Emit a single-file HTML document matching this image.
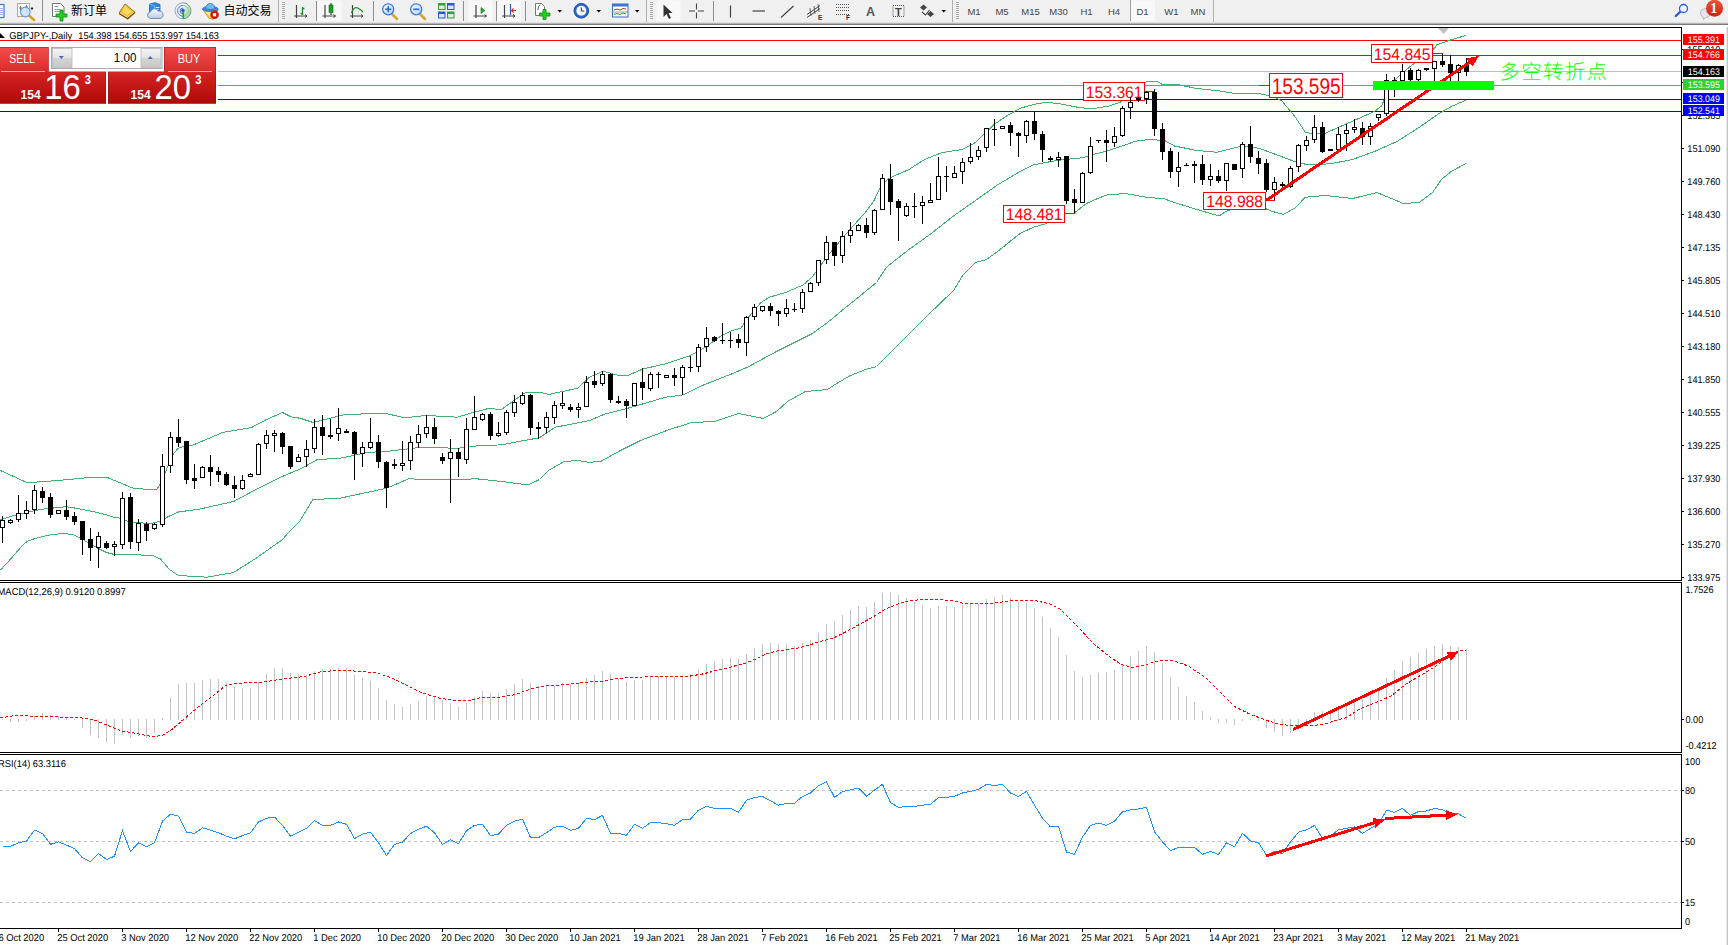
<!DOCTYPE html>
<html><head><meta charset="utf-8"><title>GBPJPY Daily</title>
<style>
html,body{margin:0;padding:0;background:#fff;}
body{width:1728px;height:945px;overflow:hidden;position:relative;font-family:"Liberation Sans","Noto Sans CJK SC",sans-serif;}
#chart{position:absolute;left:0;top:0;}
#chart text{font-family:"Liberation Sans","Noto Sans CJK SC",sans-serif;text-rendering:geometricPrecision;}
#tb{position:absolute;left:0;top:0;}
#tb text{font-family:"Liberation Sans","Noto Sans CJK SC",sans-serif;}
#trade{position:absolute;left:0;top:0;}
#trade text{font-family:"Liberation Sans","Noto Sans CJK SC",sans-serif;}

</style></head><body>
<svg id="chart" width="1728" height="945" viewBox="0 0 1728 945">
<rect x="0" y="40" width="1681" height="1" fill="#ff0000"/>
<rect x="0" y="55" width="1681" height="1" fill="#ff0000"/>
<rect x="0" y="71" width="1681" height="1" fill="#c0c0c0"/>
<rect x="0" y="85" width="1681" height="1" fill="#32cd32"/>
<rect x="0" y="99" width="1681" height="1" fill="#0000ff"/>
<rect x="0" y="111" width="1681" height="1" fill="#0000ff"/>
<polyline fill="none" stroke="#3cb371" stroke-width="1" shape-rendering="crispEdges"  points="0.5,470.5 27.2,482.7 58.3,480.5 89.4,477.5 107.2,477.5 133.5,488.3 156,490 159.5,485.5 173.5,453.5 178.3,448.3 184.5,446 193.5,444.9 222.5,432.5 251.5,427.5 266.5,419.5 282.5,412.5 291.5,417 300.5,418.3 312.9,422.5 346.3,414.3 386.3,413.5 404,417.8 426.3,415.5 457.5,417.2 472.9,412.5 488.5,408.5 501.5,409.5 515.2,399.5 526.3,392 539.5,392 548.5,394.5 577.5,388.3 589.5,377.2 603.2,371.2 618.5,375.5 627.5,375.5 643.2,368.9 665.5,363.8 689.5,356 705.5,347.2 720.9,336 732,330.5 740.9,328.3 747.5,318.3 760.9,302.5 769.5,297.2 785.5,292.5 803.2,284.9 812,277.2 818.5,268.3 827.5,256 843.2,237.2 852,227.2 864.5,213.5 873.5,201.5 882.3,183.5 891.2,177.2 908.9,169.5 924.5,159.5 942.3,152.5 962.3,149.5 975.5,142.5 982.3,136 993.5,124.9 1006.5,116 1020,108.3 1033.5,104.5 1046.5,102.3 1060,103.8 1077.5,107.2 1091.2,108.9 1108.9,106 1120,102.5 1132.5,92.5 1143.5,84.5 1146.5,81.5 1157.5,81.5 1161.5,84 1174.5,84 1196.9,88.5 1219.2,90.9 1234.5,93.5 1259.2,93.5 1272.5,96.5 1281.5,100.5 1294.5,116 1305.5,132.5 1312.5,133.5 1325.5,133.2 1341.5,126 1359.2,118.3 1374.5,111.5 1381.5,106 1388,90.5 1396.5,78.5 1408,68.3 1419.2,59.5 1434.5,48.3 1436.5,44.9 1451.9,39.5 1466.2,35.4"/>
<polyline fill="none" stroke="#3cb371" stroke-width="1" shape-rendering="crispEdges"  points="0.5,519.7 14.3,515.4 27,512.2 42.8,509.1 55.5,507.8 66.1,506.7 74.5,508 93.5,511.7 106.3,514.9 114.8,517.5 120.1,518.1 127.5,521.2 133.8,522.3 148.5,523.4 155,522.8 160.5,520.7 169.5,516 178.5,512 200.5,508.9 233.5,501.5 256,489.5 278.5,478.3 288.5,473.8 300.5,468.9 317.5,459.5 339.5,458.3 368.5,452.3 386.3,451.5 421.5,447.2 457.5,448.3 479.5,445.5 501.5,444.9 524,440.5 539.5,437.8 555.2,427.2 576.5,423.2 589.5,420.5 605.5,413.8 627.5,408.3 643.2,403.8 665.5,397.2 683.2,394.9 700.9,386 732,373.8 747.5,367.2 776.5,351.5 798.5,340.5 812,333.8 827.5,322.5 843.2,309.5 858.5,297.2 876.5,282.5 886.5,267.2 908.9,249.5 931.2,233.5 953.5,216 975.5,200.5 997.5,184.9 1020,171.5 1033.5,164.9 1051.2,161.5 1064.5,159.5 1082.3,157.8 1095.5,153.8 1108.9,150.5 1122.3,146 1135.5,141.2 1148.9,139.5 1164.5,140.5 1174.5,146 1196.9,150.5 1216.9,152.3 1241.5,146 1259.2,148.3 1276.9,154.9 1294.5,161.5 1308,164.9 1330.3,163.8 1352.5,159.5 1374.5,151.5 1396.9,141.5 1419.5,127.2 1438.5,113.8 1451.9,106.2 1466.2,100.1"/>
<polyline fill="none" stroke="#3cb371" stroke-width="1" shape-rendering="crispEdges"  points="0.5,570 7.5,562.5 14.5,554.5 22.5,545.5 27,541.5 33.5,539 42.5,536.5 50.5,535 58.5,533.9 66.5,533.8 72.5,534.5 80.5,538 88.5,543 97.5,548 106.5,552.5 114.5,554.5 127.5,554.3 140.5,555 153.5,555.8 160.5,559 169.5,569.5 178.5,575.5 207.2,577.2 233.5,572.5 256,558.3 282.5,539.5 288.5,532.5 299.5,521.5 312.9,499.5 339.5,498.3 386.3,488.3 408.5,478.9 439.5,479.5 477.5,478.9 501.5,481.5 528.5,484.9 539.5,479.5 548.5,470.5 564,461.5 577.5,460.5 588.5,462.3 600.5,461.5 620.5,450.5 640.5,440.5 669.5,429.5 692,422.5 714.3,421.5 738.5,413.5 763.2,418.5 776.5,411.5 787.5,401.5 805.5,391.5 827.5,389.5 834.3,384.9 849.5,376 865.5,369.5 876.5,366.5 900.5,342.5 925.5,317.5 953.5,290.5 962.3,276 975.5,262.5 986.5,259.5 997.5,251.5 1020,233.5 1033.5,227.2 1046.5,223.5 1064.5,213.5 1073.5,213.5 1086.5,203.5 1097.5,198.5 1108.9,194.3 1126.5,193.8 1146.5,197.2 1164.5,198.9 1174.5,202.5 1196.9,209.5 1219.2,216 1225.5,211.5 1241.5,206 1259.2,206 1272.5,211.5 1283.5,214.3 1294.5,208.3 1305.5,197.2 1325.5,195.5 1352.5,198.5 1376.9,192.5 1403.5,203.5 1419.2,202.5 1432.5,192.5 1441.5,179.5 1451.9,171 1466.2,163.4"/>
<polyline fill="none" stroke="#ff0000" stroke-width="1" shape-rendering="crispEdges" points="1144,91.5 1154.5,91.5 1154.5,89"/>
<rect x="1083.5" y="82.5" width="61" height="18" fill="#fff" stroke="#ff0000" stroke-width="1"/>
<text x="1085.8" y="97.8" font-size="16.6" fill="#ff0000" textLength="56.8" lengthAdjust="spacingAndGlyphs">153.361</text>
<polyline fill="none" stroke="#ff0000" stroke-width="1" shape-rendering="crispEdges" points="1064,213.5 1074.5,213.5 1074.5,212"/>
<rect x="1003.5" y="205.5" width="61" height="17" fill="#fff" stroke="#ff0000" stroke-width="1"/>
<text x="1005.8" y="220.3" font-size="16.6" fill="#ff0000" textLength="56.8" lengthAdjust="spacingAndGlyphs">148.481</text>
<polyline fill="none" stroke="#ff0000" stroke-width="1" shape-rendering="crispEdges" points="1265,200.5 1274.5,200.5 1274.5,199"/>
<rect x="1203.5" y="192.5" width="62" height="17" fill="#fff" stroke="#ff0000" stroke-width="1"/>
<text x="1206.3" y="207.3" font-size="16.6" fill="#ff0000" textLength="56.8" lengthAdjust="spacingAndGlyphs">148.988</text>
<polyline fill="none" stroke="#ff0000" stroke-width="1" shape-rendering="crispEdges" points="1432,53.5 1442.5,53.5 1442.5,54"/>
<rect x="1371.5" y="44.5" width="61" height="18" fill="#fff" stroke="#ff0000" stroke-width="1"/>
<text x="1373.8" y="59.8" font-size="16.6" fill="#ff0000" textLength="56.8" lengthAdjust="spacingAndGlyphs">154.845</text>
<polyline fill="none" stroke="#ff0000" stroke-width="1" shape-rendering="crispEdges" points="1259,85.5 1269,85.5"/>
<rect x="1269.5" y="73.5" width="73" height="24" fill="#fff" stroke="#ff0000" stroke-width="1"/>
<text x="1271.7" y="93.8" font-size="22.6" fill="#ff0000" textLength="69" lengthAdjust="spacingAndGlyphs">153.595</text>
<g fill="#000" shape-rendering="crispEdges"><rect x="2" y="516" width="1" height="27"/><rect x="0" y="520" width="5" height="8"/><rect x="1" y="521" width="3" height="6" fill="#fff"/><rect x="10" y="519" width="1" height="5"/><rect x="8" y="520" width="5" height="3"/><rect x="9" y="521" width="3" height="1" fill="#fff"/><rect x="18" y="495" width="1" height="27"/><rect x="16" y="513" width="5" height="7"/><rect x="17" y="514" width="3" height="5" fill="#fff"/><rect x="26" y="501" width="1" height="18"/><rect x="24" y="510" width="5" height="4"/><rect x="25" y="511" width="3" height="2" fill="#fff"/><rect x="34" y="485" width="1" height="29"/><rect x="32" y="490" width="5" height="20"/><rect x="33" y="491" width="3" height="18" fill="#fff"/><rect x="42" y="487" width="1" height="16"/><rect x="40" y="491" width="5" height="7"/><rect x="50" y="493" width="1" height="25"/><rect x="48" y="497" width="5" height="18"/><rect x="58" y="510" width="1" height="4"/><rect x="56" y="510" width="5" height="4"/><rect x="57" y="511" width="3" height="2" fill="#fff"/><rect x="66" y="500" width="1" height="20"/><rect x="64" y="510" width="5" height="7"/><rect x="74" y="512" width="1" height="13"/><rect x="72" y="516" width="5" height="6"/><rect x="82" y="521" width="1" height="34"/><rect x="80" y="521" width="5" height="19"/><rect x="90" y="528" width="1" height="33"/><rect x="88" y="539" width="5" height="9"/><rect x="98" y="532" width="1" height="36"/><rect x="96" y="536" width="5" height="12"/><rect x="97" y="537" width="3" height="10" fill="#fff"/><rect x="106" y="541" width="1" height="8"/><rect x="104" y="543" width="5" height="5"/><rect x="114" y="541" width="1" height="15"/><rect x="112" y="544" width="5" height="3"/><rect x="113" y="545" width="3" height="1" fill="#fff"/><rect x="122" y="492" width="1" height="57"/><rect x="120" y="498" width="5" height="47"/><rect x="121" y="499" width="3" height="45" fill="#fff"/><rect x="130" y="493" width="1" height="56"/><rect x="128" y="497" width="5" height="45"/><rect x="138" y="519" width="1" height="32"/><rect x="136" y="523" width="5" height="20"/><rect x="137" y="524" width="3" height="18" fill="#fff"/><rect x="146" y="522" width="1" height="19"/><rect x="144" y="524" width="5" height="7"/><rect x="154" y="523" width="1" height="7"/><rect x="152" y="524" width="5" height="5"/><rect x="153" y="525" width="3" height="3" fill="#fff"/><rect x="162" y="454" width="1" height="73"/><rect x="160" y="466" width="5" height="59"/><rect x="161" y="467" width="3" height="57" fill="#fff"/><rect x="170" y="432" width="1" height="41"/><rect x="168" y="437" width="5" height="29"/><rect x="169" y="438" width="3" height="27" fill="#fff"/><rect x="178" y="419" width="1" height="28"/><rect x="176" y="437" width="5" height="6"/><rect x="186" y="441" width="1" height="43"/><rect x="184" y="441" width="5" height="39"/><rect x="194" y="464" width="1" height="25"/><rect x="192" y="478" width="5" height="3"/><rect x="202" y="466" width="1" height="12"/><rect x="200" y="467" width="5" height="11"/><rect x="201" y="468" width="3" height="9" fill="#fff"/><rect x="210" y="455" width="1" height="31"/><rect x="208" y="467" width="5" height="5"/><rect x="218" y="467" width="1" height="15"/><rect x="216" y="471" width="5" height="4"/><rect x="226" y="472" width="1" height="14"/><rect x="224" y="474" width="5" height="11"/><rect x="234" y="476" width="1" height="22"/><rect x="232" y="485" width="5" height="4"/><rect x="242" y="475" width="1" height="15"/><rect x="240" y="480" width="5" height="9"/><rect x="241" y="481" width="3" height="7" fill="#fff"/><rect x="250" y="473" width="1" height="4"/><rect x="248" y="474" width="5" height="3"/><rect x="249" y="475" width="3" height="1" fill="#fff"/><rect x="258" y="443" width="1" height="32"/><rect x="256" y="444" width="5" height="31"/><rect x="257" y="445" width="3" height="29" fill="#fff"/><rect x="266" y="430" width="1" height="19"/><rect x="264" y="435" width="5" height="9"/><rect x="265" y="436" width="3" height="7" fill="#fff"/><rect x="274" y="430" width="1" height="22"/><rect x="272" y="433" width="5" height="3"/><rect x="273" y="434" width="3" height="1" fill="#fff"/><rect x="282" y="432" width="1" height="22"/><rect x="280" y="433" width="5" height="14"/><rect x="290" y="446" width="1" height="23"/><rect x="288" y="446" width="5" height="21"/><rect x="298" y="454" width="1" height="8"/><rect x="296" y="457" width="5" height="5"/><rect x="297" y="458" width="3" height="3" fill="#fff"/><rect x="306" y="440" width="1" height="27"/><rect x="304" y="449" width="5" height="8"/><rect x="305" y="450" width="3" height="6" fill="#fff"/><rect x="314" y="419" width="1" height="34"/><rect x="312" y="427" width="5" height="22"/><rect x="313" y="428" width="3" height="20" fill="#fff"/><rect x="322" y="415" width="1" height="40"/><rect x="320" y="427" width="5" height="9"/><rect x="330" y="419" width="1" height="20"/><rect x="328" y="435" width="5" height="2"/><rect x="338" y="408" width="1" height="33"/><rect x="336" y="428" width="5" height="6"/><rect x="337" y="429" width="3" height="4" fill="#fff"/><rect x="346" y="429" width="1" height="4"/><rect x="344" y="431" width="5" height="2"/><rect x="354" y="431" width="1" height="49"/><rect x="352" y="432" width="5" height="22"/><rect x="362" y="442" width="1" height="25"/><rect x="360" y="447" width="5" height="7"/><rect x="361" y="448" width="3" height="5" fill="#fff"/><rect x="370" y="418" width="1" height="31"/><rect x="368" y="442" width="5" height="6"/><rect x="369" y="443" width="3" height="4" fill="#fff"/><rect x="378" y="435" width="1" height="33"/><rect x="376" y="442" width="5" height="20"/><rect x="386" y="461" width="1" height="47"/><rect x="384" y="462" width="5" height="26"/><rect x="394" y="459" width="1" height="10"/><rect x="392" y="464" width="5" height="2"/><rect x="402" y="441" width="1" height="30"/><rect x="400" y="463" width="5" height="3"/><rect x="401" y="464" width="3" height="1" fill="#fff"/><rect x="410" y="436" width="1" height="34"/><rect x="408" y="442" width="5" height="19"/><rect x="409" y="443" width="3" height="17" fill="#fff"/><rect x="418" y="425" width="1" height="23"/><rect x="416" y="434" width="5" height="9"/><rect x="417" y="435" width="3" height="7" fill="#fff"/><rect x="426" y="415" width="1" height="23"/><rect x="424" y="427" width="5" height="7"/><rect x="425" y="428" width="3" height="5" fill="#fff"/><rect x="434" y="418" width="1" height="26"/><rect x="432" y="427" width="5" height="12"/><rect x="442" y="453" width="1" height="11"/><rect x="440" y="457" width="5" height="4"/><rect x="450" y="439" width="1" height="64"/><rect x="448" y="452" width="5" height="7"/><rect x="449" y="453" width="3" height="5" fill="#fff"/><rect x="458" y="448" width="1" height="29"/><rect x="456" y="452" width="5" height="7"/><rect x="466" y="418" width="1" height="46"/><rect x="464" y="429" width="5" height="31"/><rect x="465" y="430" width="3" height="29" fill="#fff"/><rect x="474" y="396" width="1" height="34"/><rect x="472" y="417" width="5" height="13"/><rect x="473" y="418" width="3" height="11" fill="#fff"/><rect x="482" y="413" width="1" height="8"/><rect x="480" y="414" width="5" height="6"/><rect x="481" y="415" width="3" height="4" fill="#fff"/><rect x="490" y="412" width="1" height="28"/><rect x="488" y="414" width="5" height="22"/><rect x="498" y="422" width="1" height="15"/><rect x="496" y="433" width="5" height="3"/><rect x="497" y="434" width="3" height="1" fill="#fff"/><rect x="506" y="410" width="1" height="25"/><rect x="504" y="412" width="5" height="21"/><rect x="505" y="413" width="3" height="19" fill="#fff"/><rect x="514" y="395" width="1" height="22"/><rect x="512" y="402" width="5" height="11"/><rect x="513" y="403" width="3" height="9" fill="#fff"/><rect x="522" y="392" width="1" height="13"/><rect x="520" y="395" width="5" height="9"/><rect x="521" y="396" width="3" height="7" fill="#fff"/><rect x="530" y="394" width="1" height="41"/><rect x="528" y="395" width="5" height="33"/><rect x="538" y="422" width="1" height="17"/><rect x="536" y="427" width="5" height="2"/><rect x="546" y="412" width="1" height="21"/><rect x="544" y="417" width="5" height="11"/><rect x="545" y="418" width="3" height="9" fill="#fff"/><rect x="554" y="401" width="1" height="23"/><rect x="552" y="405" width="5" height="13"/><rect x="553" y="406" width="3" height="11" fill="#fff"/><rect x="562" y="392" width="1" height="17"/><rect x="560" y="403" width="5" height="3"/><rect x="561" y="404" width="3" height="1" fill="#fff"/><rect x="570" y="404" width="1" height="8"/><rect x="568" y="407" width="5" height="3"/><rect x="578" y="403" width="1" height="15"/><rect x="576" y="407" width="5" height="3"/><rect x="577" y="408" width="3" height="1" fill="#fff"/><rect x="586" y="376" width="1" height="31"/><rect x="584" y="382" width="5" height="25"/><rect x="585" y="383" width="3" height="23" fill="#fff"/><rect x="594" y="371" width="1" height="17"/><rect x="592" y="381" width="5" height="4"/><rect x="602" y="371" width="1" height="15"/><rect x="600" y="374" width="5" height="10"/><rect x="601" y="375" width="3" height="8" fill="#fff"/><rect x="610" y="373" width="1" height="30"/><rect x="608" y="374" width="5" height="26"/><rect x="618" y="396" width="1" height="8"/><rect x="616" y="401" width="5" height="2"/><rect x="626" y="399" width="1" height="19"/><rect x="624" y="401" width="5" height="5"/><rect x="634" y="383" width="1" height="23"/><rect x="632" y="383" width="5" height="23"/><rect x="633" y="384" width="3" height="21" fill="#fff"/><rect x="642" y="368" width="1" height="32"/><rect x="640" y="382" width="5" height="6"/><rect x="650" y="372" width="1" height="19"/><rect x="648" y="374" width="5" height="15"/><rect x="649" y="375" width="3" height="13" fill="#fff"/><rect x="658" y="372" width="1" height="16"/><rect x="656" y="374" width="5" height="1"/><rect x="666" y="375" width="1" height="3"/><rect x="664" y="375" width="5" height="3"/><rect x="665" y="376" width="3" height="1" fill="#fff"/><rect x="674" y="368" width="1" height="18"/><rect x="672" y="375" width="5" height="3"/><rect x="682" y="365" width="1" height="30"/><rect x="680" y="367" width="5" height="11"/><rect x="681" y="368" width="3" height="9" fill="#fff"/><rect x="690" y="356" width="1" height="16"/><rect x="688" y="367" width="5" height="1"/><rect x="698" y="344" width="1" height="28"/><rect x="696" y="347" width="5" height="20"/><rect x="697" y="348" width="3" height="18" fill="#fff"/><rect x="706" y="327" width="1" height="25"/><rect x="704" y="338" width="5" height="9"/><rect x="705" y="339" width="3" height="7" fill="#fff"/><rect x="714" y="336" width="1" height="6"/><rect x="712" y="337" width="5" height="4"/><rect x="722" y="323" width="1" height="21"/><rect x="720" y="340" width="5" height="1"/><rect x="730" y="332" width="1" height="16"/><rect x="728" y="340" width="5" height="1"/><rect x="738" y="334" width="1" height="14"/><rect x="736" y="339" width="5" height="4"/><rect x="746" y="316" width="1" height="40"/><rect x="744" y="317" width="5" height="26"/><rect x="745" y="318" width="3" height="24" fill="#fff"/><rect x="754" y="304" width="1" height="16"/><rect x="752" y="307" width="5" height="10"/><rect x="753" y="308" width="3" height="8" fill="#fff"/><rect x="762" y="306" width="1" height="6"/><rect x="760" y="306" width="5" height="5"/><rect x="761" y="307" width="3" height="3" fill="#fff"/><rect x="770" y="303" width="1" height="13"/><rect x="768" y="306" width="5" height="5"/><rect x="778" y="310" width="1" height="16"/><rect x="776" y="311" width="5" height="3"/><rect x="786" y="299" width="1" height="18"/><rect x="784" y="308" width="5" height="6"/><rect x="785" y="309" width="3" height="4" fill="#fff"/><rect x="794" y="303" width="1" height="9"/><rect x="792" y="309" width="5" height="1"/><rect x="802" y="289" width="1" height="24"/><rect x="800" y="292" width="5" height="17"/><rect x="801" y="293" width="3" height="15" fill="#fff"/><rect x="810" y="282" width="1" height="10"/><rect x="808" y="283" width="5" height="9"/><rect x="809" y="284" width="3" height="7" fill="#fff"/><rect x="818" y="260" width="1" height="26"/><rect x="816" y="260" width="5" height="23"/><rect x="817" y="261" width="3" height="21" fill="#fff"/><rect x="826" y="236" width="1" height="28"/><rect x="824" y="242" width="5" height="18"/><rect x="825" y="243" width="3" height="16" fill="#fff"/><rect x="834" y="242" width="1" height="24"/><rect x="832" y="242" width="5" height="14"/><rect x="842" y="231" width="1" height="32"/><rect x="840" y="236" width="5" height="20"/><rect x="841" y="237" width="3" height="18" fill="#fff"/><rect x="850" y="222" width="1" height="21"/><rect x="848" y="230" width="5" height="6"/><rect x="849" y="231" width="3" height="4" fill="#fff"/><rect x="858" y="224" width="1" height="7"/><rect x="856" y="225" width="5" height="6"/><rect x="857" y="226" width="3" height="4" fill="#fff"/><rect x="866" y="218" width="1" height="20"/><rect x="864" y="225" width="5" height="8"/><rect x="874" y="209" width="1" height="26"/><rect x="872" y="210" width="5" height="23"/><rect x="873" y="211" width="3" height="21" fill="#fff"/><rect x="882" y="174" width="1" height="36"/><rect x="880" y="178" width="5" height="32"/><rect x="881" y="179" width="3" height="30" fill="#fff"/><rect x="890" y="164" width="1" height="51"/><rect x="888" y="179" width="5" height="23"/><rect x="898" y="199" width="1" height="42"/><rect x="896" y="201" width="5" height="7"/><rect x="906" y="203" width="1" height="14"/><rect x="904" y="206" width="5" height="10"/><rect x="905" y="207" width="3" height="8" fill="#fff"/><rect x="914" y="193" width="1" height="25"/><rect x="912" y="206" width="5" height="1"/><rect x="922" y="196" width="1" height="28"/><rect x="920" y="202" width="5" height="4"/><rect x="921" y="203" width="3" height="2" fill="#fff"/><rect x="930" y="183" width="1" height="20"/><rect x="928" y="200" width="5" height="3"/><rect x="929" y="201" width="3" height="1" fill="#fff"/><rect x="938" y="157" width="1" height="43"/><rect x="936" y="176" width="5" height="24"/><rect x="937" y="177" width="3" height="22" fill="#fff"/><rect x="946" y="166" width="1" height="26"/><rect x="944" y="176" width="5" height="1"/><rect x="954" y="166" width="1" height="12"/><rect x="952" y="173" width="5" height="5"/><rect x="953" y="174" width="3" height="3" fill="#fff"/><rect x="962" y="158" width="1" height="26"/><rect x="960" y="162" width="5" height="10"/><rect x="961" y="163" width="3" height="8" fill="#fff"/><rect x="970" y="143" width="1" height="21"/><rect x="968" y="157" width="5" height="5"/><rect x="969" y="158" width="3" height="3" fill="#fff"/><rect x="978" y="146" width="1" height="14"/><rect x="976" y="150" width="5" height="7"/><rect x="977" y="151" width="3" height="5" fill="#fff"/><rect x="986" y="128" width="1" height="24"/><rect x="984" y="128" width="5" height="20"/><rect x="985" y="129" width="3" height="18" fill="#fff"/><rect x="994" y="119" width="1" height="27"/><rect x="992" y="129" width="5" height="1"/><rect x="1002" y="126" width="1" height="3"/><rect x="1000" y="126" width="5" height="3"/><rect x="1001" y="127" width="3" height="1" fill="#fff"/><rect x="1010" y="122" width="1" height="24"/><rect x="1008" y="125" width="5" height="8"/><rect x="1018" y="132" width="1" height="25"/><rect x="1016" y="133" width="5" height="3"/><rect x="1026" y="120" width="1" height="23"/><rect x="1024" y="121" width="5" height="15"/><rect x="1025" y="122" width="3" height="13" fill="#fff"/><rect x="1034" y="112" width="1" height="28"/><rect x="1032" y="121" width="5" height="13"/><rect x="1042" y="131" width="1" height="31"/><rect x="1040" y="134" width="5" height="16"/><rect x="1050" y="156" width="1" height="6"/><rect x="1048" y="158" width="5" height="2"/><rect x="1058" y="152" width="1" height="15"/><rect x="1056" y="157" width="5" height="3"/><rect x="1057" y="158" width="3" height="1" fill="#fff"/><rect x="1066" y="156" width="1" height="48"/><rect x="1064" y="156" width="5" height="45"/><rect x="1074" y="189" width="1" height="24"/><rect x="1072" y="199" width="5" height="4"/><rect x="1082" y="172" width="1" height="31"/><rect x="1080" y="173" width="5" height="30"/><rect x="1081" y="174" width="3" height="28" fill="#fff"/><rect x="1090" y="137" width="1" height="37"/><rect x="1088" y="146" width="5" height="27"/><rect x="1089" y="147" width="3" height="25" fill="#fff"/><rect x="1098" y="140" width="1" height="3"/><rect x="1096" y="140" width="5" height="1"/><rect x="1106" y="130" width="1" height="32"/><rect x="1104" y="140" width="5" height="3"/><rect x="1114" y="127" width="1" height="20"/><rect x="1112" y="136" width="5" height="7"/><rect x="1113" y="137" width="3" height="5" fill="#fff"/><rect x="1122" y="106" width="1" height="31"/><rect x="1120" y="108" width="5" height="28"/><rect x="1121" y="109" width="3" height="26" fill="#fff"/><rect x="1130" y="97" width="1" height="22"/><rect x="1128" y="102" width="5" height="6"/><rect x="1129" y="103" width="3" height="4" fill="#fff"/><rect x="1138" y="97" width="1" height="5"/><rect x="1136" y="98" width="5" height="2"/><rect x="1146" y="91" width="1" height="13"/><rect x="1144" y="92" width="5" height="7"/><rect x="1145" y="93" width="3" height="5" fill="#fff"/><rect x="1154" y="90" width="1" height="46"/><rect x="1152" y="92" width="5" height="37"/><rect x="1162" y="123" width="1" height="37"/><rect x="1160" y="129" width="5" height="23"/><rect x="1170" y="148" width="1" height="30"/><rect x="1168" y="151" width="5" height="21"/><rect x="1178" y="152" width="1" height="35"/><rect x="1176" y="167" width="5" height="5"/><rect x="1177" y="168" width="3" height="3" fill="#fff"/><rect x="1186" y="163" width="1" height="3"/><rect x="1184" y="165" width="5" height="1"/><rect x="1194" y="161" width="1" height="22"/><rect x="1192" y="164" width="5" height="2"/><rect x="1202" y="155" width="1" height="30"/><rect x="1200" y="164" width="5" height="16"/><rect x="1210" y="164" width="1" height="22"/><rect x="1208" y="176" width="5" height="4"/><rect x="1209" y="177" width="3" height="2" fill="#fff"/><rect x="1218" y="170" width="1" height="13"/><rect x="1216" y="176" width="5" height="5"/><rect x="1226" y="163" width="1" height="28"/><rect x="1224" y="163" width="5" height="18"/><rect x="1225" y="164" width="3" height="16" fill="#fff"/><rect x="1234" y="164" width="1" height="6"/><rect x="1232" y="164" width="5" height="6"/><rect x="1242" y="142" width="1" height="36"/><rect x="1240" y="144" width="5" height="25"/><rect x="1241" y="145" width="3" height="23" fill="#fff"/><rect x="1250" y="126" width="1" height="37"/><rect x="1248" y="144" width="5" height="13"/><rect x="1258" y="151" width="1" height="23"/><rect x="1256" y="158" width="5" height="6"/><rect x="1266" y="159" width="1" height="33"/><rect x="1264" y="163" width="5" height="27"/><rect x="1274" y="177" width="1" height="23"/><rect x="1272" y="182" width="5" height="8"/><rect x="1273" y="183" width="3" height="6" fill="#fff"/><rect x="1282" y="182" width="1" height="6"/><rect x="1280" y="184" width="5" height="2"/><rect x="1290" y="166" width="1" height="22"/><rect x="1288" y="168" width="5" height="19"/><rect x="1289" y="169" width="3" height="17" fill="#fff"/><rect x="1298" y="144" width="1" height="28"/><rect x="1296" y="145" width="5" height="22"/><rect x="1297" y="146" width="3" height="20" fill="#fff"/><rect x="1306" y="136" width="1" height="15"/><rect x="1304" y="140" width="5" height="6"/><rect x="1305" y="141" width="3" height="4" fill="#fff"/><rect x="1314" y="115" width="1" height="28"/><rect x="1312" y="127" width="5" height="13"/><rect x="1313" y="128" width="3" height="11" fill="#fff"/><rect x="1322" y="122" width="1" height="31"/><rect x="1320" y="127" width="5" height="25"/><rect x="1330" y="149" width="1" height="2"/><rect x="1328" y="149" width="5" height="2"/><rect x="1338" y="127" width="1" height="23"/><rect x="1336" y="134" width="5" height="16"/><rect x="1337" y="135" width="3" height="14" fill="#fff"/><rect x="1346" y="124" width="1" height="27"/><rect x="1344" y="130" width="5" height="4"/><rect x="1345" y="131" width="3" height="2" fill="#fff"/><rect x="1354" y="119" width="1" height="14"/><rect x="1352" y="127" width="5" height="3"/><rect x="1353" y="128" width="3" height="1" fill="#fff"/><rect x="1362" y="122" width="1" height="23"/><rect x="1360" y="128" width="5" height="9"/><rect x="1370" y="123" width="1" height="22"/><rect x="1368" y="126" width="5" height="11"/><rect x="1369" y="127" width="3" height="9" fill="#fff"/><rect x="1378" y="114" width="1" height="7"/><rect x="1376" y="114" width="5" height="4"/><rect x="1377" y="115" width="3" height="2" fill="#fff"/><rect x="1386" y="74" width="1" height="42"/><rect x="1384" y="80" width="5" height="34"/><rect x="1385" y="81" width="3" height="32" fill="#fff"/><rect x="1394" y="77" width="1" height="20"/><rect x="1392" y="80" width="5" height="1"/><rect x="1402" y="64" width="1" height="17"/><rect x="1400" y="71" width="5" height="10"/><rect x="1401" y="72" width="3" height="8" fill="#fff"/><rect x="1410" y="68" width="1" height="13"/><rect x="1408" y="70" width="5" height="10"/><rect x="1418" y="69" width="1" height="12"/><rect x="1416" y="70" width="5" height="10"/><rect x="1417" y="71" width="3" height="8" fill="#fff"/><rect x="1426" y="68" width="1" height="3"/><rect x="1424" y="68" width="5" height="2"/><rect x="1434" y="61" width="1" height="20"/><rect x="1432" y="61" width="5" height="8"/><rect x="1433" y="62" width="3" height="6" fill="#fff"/><rect x="1442" y="54" width="1" height="13"/><rect x="1440" y="61" width="5" height="4"/><rect x="1450" y="55" width="1" height="26"/><rect x="1448" y="64" width="5" height="9"/><rect x="1458" y="64" width="1" height="17"/><rect x="1456" y="65" width="5" height="8"/><rect x="1457" y="66" width="3" height="6" fill="#fff"/><rect x="1466" y="58" width="1" height="18"/><rect x="1464" y="65" width="5" height="7"/></g>
<g fill="#c0c0c0" shape-rendering="crispEdges"><rect x="2" y="719" width="1" height="1"/><rect x="10" y="719" width="1" height="3"/><rect x="18" y="719" width="1" height="3"/><rect x="26" y="719" width="1" height="2"/><rect x="34" y="716" width="1" height="4"/><rect x="42" y="713" width="1" height="7"/><rect x="50" y="715" width="1" height="5"/><rect x="58" y="716" width="1" height="4"/><rect x="66" y="717" width="1" height="3"/><rect x="74" y="719" width="1" height="1"/><rect x="82" y="719" width="1" height="9"/><rect x="90" y="719" width="1" height="16"/><rect x="98" y="719" width="1" height="19"/><rect x="106" y="719" width="1" height="23"/><rect x="114" y="719" width="1" height="25"/><rect x="122" y="719" width="1" height="16"/><rect x="130" y="719" width="1" height="19"/><rect x="138" y="719" width="1" height="17"/><rect x="146" y="719" width="1" height="19"/><rect x="154" y="719" width="1" height="14"/><rect x="162" y="718" width="1" height="2"/><rect x="170" y="698" width="1" height="22"/><rect x="178" y="684" width="1" height="36"/><rect x="186" y="683" width="1" height="37"/><rect x="194" y="683" width="1" height="37"/><rect x="202" y="680" width="1" height="40"/><rect x="210" y="679" width="1" height="41"/><rect x="218" y="679" width="1" height="41"/><rect x="226" y="683" width="1" height="37"/><rect x="234" y="687" width="1" height="33"/><rect x="242" y="688" width="1" height="32"/><rect x="250" y="688" width="1" height="32"/><rect x="258" y="682" width="1" height="38"/><rect x="266" y="674" width="1" height="46"/><rect x="274" y="668" width="1" height="52"/><rect x="282" y="668" width="1" height="52"/><rect x="290" y="673" width="1" height="47"/><rect x="298" y="674" width="1" height="46"/><rect x="306" y="675" width="1" height="45"/><rect x="314" y="671" width="1" height="49"/><rect x="322" y="669" width="1" height="51"/><rect x="330" y="669" width="1" height="51"/><rect x="338" y="668" width="1" height="52"/><rect x="346" y="668" width="1" height="52"/><rect x="354" y="675" width="1" height="45"/><rect x="362" y="678" width="1" height="42"/><rect x="370" y="681" width="1" height="39"/><rect x="378" y="688" width="1" height="32"/><rect x="386" y="700" width="1" height="20"/><rect x="394" y="704" width="1" height="16"/><rect x="402" y="707" width="1" height="13"/><rect x="410" y="704" width="1" height="16"/><rect x="418" y="701" width="1" height="19"/><rect x="426" y="696" width="1" height="24"/><rect x="434" y="696" width="1" height="24"/><rect x="442" y="700" width="1" height="20"/><rect x="450" y="703" width="1" height="17"/><rect x="458" y="707" width="1" height="13"/><rect x="466" y="703" width="1" height="17"/><rect x="474" y="697" width="1" height="23"/><rect x="482" y="691" width="1" height="29"/><rect x="490" y="693" width="1" height="27"/><rect x="498" y="693" width="1" height="27"/><rect x="506" y="689" width="1" height="31"/><rect x="514" y="684" width="1" height="36"/><rect x="522" y="679" width="1" height="41"/><rect x="530" y="683" width="1" height="37"/><rect x="538" y="686" width="1" height="34"/><rect x="546" y="686" width="1" height="34"/><rect x="554" y="686" width="1" height="34"/><rect x="562" y="683" width="1" height="37"/><rect x="570" y="684" width="1" height="36"/><rect x="578" y="683" width="1" height="37"/><rect x="586" y="678" width="1" height="42"/><rect x="594" y="675" width="1" height="45"/><rect x="602" y="671" width="1" height="49"/><rect x="610" y="674" width="1" height="46"/><rect x="618" y="679" width="1" height="41"/><rect x="626" y="682" width="1" height="38"/><rect x="634" y="680" width="1" height="40"/><rect x="642" y="680" width="1" height="40"/><rect x="650" y="677" width="1" height="43"/><rect x="658" y="676" width="1" height="44"/><rect x="666" y="676" width="1" height="44"/><rect x="674" y="677" width="1" height="43"/><rect x="682" y="675" width="1" height="45"/><rect x="690" y="674" width="1" height="46"/><rect x="698" y="669" width="1" height="51"/><rect x="706" y="664" width="1" height="56"/><rect x="714" y="661" width="1" height="59"/><rect x="722" y="659" width="1" height="61"/><rect x="730" y="658" width="1" height="62"/><rect x="738" y="659" width="1" height="61"/><rect x="746" y="654" width="1" height="66"/><rect x="754" y="648" width="1" height="72"/><rect x="762" y="644" width="1" height="76"/><rect x="770" y="643" width="1" height="77"/><rect x="778" y="644" width="1" height="76"/><rect x="786" y="644" width="1" height="76"/><rect x="794" y="646" width="1" height="74"/><rect x="802" y="643" width="1" height="77"/><rect x="810" y="640" width="1" height="80"/><rect x="818" y="633" width="1" height="87"/><rect x="826" y="624" width="1" height="96"/><rect x="834" y="621" width="1" height="99"/><rect x="842" y="615" width="1" height="105"/><rect x="850" y="610" width="1" height="110"/><rect x="858" y="606" width="1" height="114"/><rect x="866" y="607" width="1" height="113"/><rect x="874" y="602" width="1" height="118"/><rect x="882" y="593" width="1" height="127"/><rect x="890" y="592" width="1" height="128"/><rect x="898" y="595" width="1" height="125"/><rect x="906" y="598" width="1" height="122"/><rect x="914" y="602" width="1" height="118"/><rect x="922" y="605" width="1" height="115"/><rect x="930" y="608" width="1" height="112"/><rect x="938" y="606" width="1" height="114"/><rect x="946" y="606" width="1" height="114"/><rect x="954" y="607" width="1" height="113"/><rect x="962" y="605" width="1" height="115"/><rect x="970" y="604" width="1" height="116"/><rect x="978" y="604" width="1" height="116"/><rect x="986" y="599" width="1" height="121"/><rect x="994" y="597" width="1" height="123"/><rect x="1002" y="595" width="1" height="125"/><rect x="1010" y="598" width="1" height="122"/><rect x="1018" y="602" width="1" height="118"/><rect x="1026" y="603" width="1" height="117"/><rect x="1034" y="608" width="1" height="112"/><rect x="1042" y="617" width="1" height="103"/><rect x="1050" y="628" width="1" height="92"/><rect x="1058" y="637" width="1" height="83"/><rect x="1066" y="655" width="1" height="65"/><rect x="1074" y="671" width="1" height="49"/><rect x="1082" y="677" width="1" height="43"/><rect x="1090" y="675" width="1" height="45"/><rect x="1098" y="673" width="1" height="47"/><rect x="1106" y="672" width="1" height="48"/><rect x="1114" y="670" width="1" height="50"/><rect x="1122" y="664" width="1" height="56"/><rect x="1130" y="656" width="1" height="64"/><rect x="1138" y="651" width="1" height="69"/><rect x="1146" y="646" width="1" height="74"/><rect x="1154" y="652" width="1" height="68"/><rect x="1162" y="663" width="1" height="57"/><rect x="1170" y="677" width="1" height="43"/><rect x="1178" y="687" width="1" height="33"/><rect x="1186" y="696" width="1" height="24"/><rect x="1194" y="702" width="1" height="18"/><rect x="1202" y="711" width="1" height="9"/><rect x="1210" y="717" width="1" height="3"/><rect x="1218" y="719" width="1" height="4"/><rect x="1226" y="719" width="1" height="4"/><rect x="1234" y="719" width="1" height="6"/><rect x="1242" y="719" width="1" height="2"/><rect x="1250" y="719" width="1" height="1"/><rect x="1258" y="719" width="1" height="2"/><rect x="1266" y="719" width="1" height="9"/><rect x="1274" y="719" width="1" height="13"/><rect x="1282" y="719" width="1" height="17"/><rect x="1290" y="719" width="1" height="14"/><rect x="1298" y="719" width="1" height="7"/><rect x="1306" y="719" width="1" height="2"/><rect x="1314" y="712" width="1" height="8"/><rect x="1322" y="711" width="1" height="9"/><rect x="1330" y="711" width="1" height="9"/><rect x="1338" y="708" width="1" height="12"/><rect x="1346" y="705" width="1" height="15"/><rect x="1354" y="701" width="1" height="19"/><rect x="1362" y="699" width="1" height="21"/><rect x="1370" y="696" width="1" height="24"/><rect x="1378" y="689" width="1" height="31"/><rect x="1386" y="678" width="1" height="42"/><rect x="1394" y="670" width="1" height="50"/><rect x="1402" y="661" width="1" height="59"/><rect x="1410" y="657" width="1" height="63"/><rect x="1418" y="653" width="1" height="67"/><rect x="1426" y="649" width="1" height="71"/><rect x="1434" y="646" width="1" height="74"/><rect x="1442" y="644" width="1" height="76"/><rect x="1450" y="646" width="1" height="74"/><rect x="1458" y="647" width="1" height="73"/><rect x="1466" y="649" width="1" height="71"/></g>
<polyline fill="none" stroke="#ff0000" stroke-width="1" shape-rendering="crispEdges" stroke-dasharray="3 2" points="0,718 17.4,715.1 34.7,716.5 78.1,717.4 92.6,719.4 107.1,725.2 121.5,731 138.9,733.9 153.4,736.8 162,735.4 170.7,730.4 185.2,718 202.5,703.5 214.1,694.8 225.7,685.6 234.4,683.3 260.4,682.4 283.6,678.9 303.8,676.6 321.2,671.7 338.5,670.3 355.9,671.1 376.2,672.6 390.6,677.5 405.1,684.7 419.6,692 439.8,698.3 457.2,700.6 468.8,700.6 480.3,697.7 500,697.2 514.5,694.8 528.9,689.6 543.4,686.2 563.7,684.7 583.9,682.4 604.2,681.2 615.7,678.4 644.7,676.9 662,676.3 685.2,676.9 702.5,674 714.1,671.1 731.5,666.8 745.9,663 754.6,659.5 766.2,653.8 777.8,650.9 798,648 809.6,645.1 818.3,641.9 832.8,638.4 847.2,631.2 858.8,624.8 873.3,616.7 884.8,609.5 893.5,605.7 905.1,601.4 919.6,599.7 939.8,599.7 954.3,601.1 965.9,604 986.1,603.7 1000,602.3 1011.6,600.5 1034.7,600.5 1049.2,603.7 1060.8,609.5 1075.2,624 1092.6,642.8 1110,657.2 1121.5,664.5 1133.1,667.6 1144.7,665 1159.1,660.7 1173.6,660.7 1188.1,665.9 1205.4,677.5 1219.9,692 1234.4,706.4 1248.8,713.7 1266.2,720.3 1277.8,723.8 1292.2,725.8 1306.7,725.8 1324.1,724.4 1335.6,720.3 1347.2,717.4 1358.8,709.3 1373.3,703.5 1390.6,696.3 1405.1,684.7 1419.6,676 1434,667.4 1445.6,658.7 1457.2,651.4 1466.1,650"/>
<line x1="0" x2="1681" y1="790.5" y2="790.5" stroke="#c0c0c0" stroke-width="1" stroke-dasharray="3 3" shape-rendering="crispEdges"/>
<line x1="0" x2="1681" y1="841.5" y2="841.5" stroke="#c0c0c0" stroke-width="1" stroke-dasharray="3 3" shape-rendering="crispEdges"/>
<line x1="0" x2="1681" y1="902.5" y2="902.5" stroke="#c0c0c0" stroke-width="1" stroke-dasharray="3 3" shape-rendering="crispEdges"/>
<polyline fill="none" stroke="#1e90ff" stroke-width="1" shape-rendering="crispEdges"  points="2.5,847.1 10.5,846.3 18.5,842.8 26.5,841.1 34.5,830.1 42.5,833.5 50.5,844.3 58.5,841.9 66.5,845.1 74.5,848.6 82.5,857.9 90.5,861.6 98.5,853.5 106.5,859.6 114.5,856.1 122.5,830.7 130.5,851.5 138.5,842.8 146.5,846.6 154.5,842.8 162.5,821.1 170.5,814.2 178.5,816.2 186.5,832.1 194.5,833.5 202.5,827.8 210.5,830.1 218.5,832.7 226.5,836.2 234.5,838.8 242.5,835.6 250.5,832.7 258.5,822 266.5,818.2 274.5,817.1 282.5,825.4 290.5,836.2 298.5,832.1 306.5,828.3 314.5,820.5 322.5,825.4 330.5,825.4 338.5,822 346.5,824.3 354.5,838.5 362.5,834.1 370.5,832.1 378.5,842.8 386.5,855.5 394.5,844.3 402.5,842.2 410.5,833.5 418.5,829.2 426.5,826.3 434.5,832.7 442.5,844.5 450.5,839.9 458.5,843.7 466.5,830.7 474.5,825.4 482.5,824.3 490.5,835.6 498.5,834.1 506.5,825.4 514.5,821.1 522.5,819.1 530.5,837.6 538.5,837.6 546.5,832.7 554.5,827.2 562.5,826.3 570.5,830.4 578.5,828.3 586.5,818.2 594.5,819.7 602.5,815.3 610.5,833.3 618.5,833.3 626.5,835.3 634.5,824.3 642.5,828.3 650.5,822.6 658.5,822.6 666.5,823.7 674.5,825.4 682.5,819.4 690.5,819.1 698.5,810.1 706.5,806.3 714.5,808.4 722.5,808.4 730.5,808.4 738.5,812.1 746.5,800.3 754.5,797.4 762.5,796.5 770.5,800.8 778.5,805.2 786.5,803.5 794.5,803.2 802.5,796.5 810.5,793 818.5,785.5 826.5,782 834.5,797.4 842.5,791.6 850.5,789.9 858.5,788.1 866.5,796.2 874.5,790.1 882.5,784.4 890.5,802.6 898.5,807.5 906.5,806.3 914.5,806.3 922.5,805.2 930.5,804.3 938.5,797.7 946.5,797.4 954.5,796.2 962.5,793 970.5,791.3 978.5,789.3 986.5,784.4 994.5,785.5 1002.5,784.4 1010.5,793 1018.5,796.5 1026.5,791.3 1034.5,805.2 1042.5,818.2 1050.5,826.9 1058.5,826.3 1066.5,852.1 1074.5,854.4 1082.5,837 1090.5,825.4 1098.5,823.1 1106.5,825.4 1114.5,821.1 1122.5,811.8 1130.5,809.8 1138.5,809 1146.5,807.2 1154.5,831.8 1162.5,841.9 1170.5,850.6 1178.5,847.4 1186.5,847.4 1194.5,847.4 1202.5,854.4 1210.5,851.5 1218.5,854.4 1226.5,842.8 1234.5,846.9 1242.5,833.3 1250.5,840.8 1258.5,842.8 1266.5,855.2 1274.5,851.5 1282.5,853.8 1290.5,841.9 1298.5,832.1 1306.5,829.8 1314.5,825.4 1322.5,838.5 1330.5,835.6 1338.5,829.8 1346.5,828.3 1354.5,826.9 1362.5,833.5 1370.5,828.3 1378.5,824 1386.5,810.1 1394.5,812.4 1402.5,808.4 1410.5,815.3 1418.5,811.6 1426.5,811 1434.5,808.4 1442.5,809.8 1450.5,813.9 1458.5,813.9 1466.5,818.5"/>
<line x1="1266" y1="200.5" x2="1470.3" y2="61.9" stroke="#ff0000" stroke-width="3" shape-rendering="crispEdges"/>
<polygon fill="#ff0000" shape-rendering="crispEdges" points="1479,56 1472.3,66.6 1466.7,58.3"/>
<line x1="1293" y1="729.5" x2="1449.5" y2="656" stroke="#ff0000" stroke-width="3" shape-rendering="crispEdges"/>
<polygon fill="#ff0000" shape-rendering="crispEdges" points="1459,651.5 1450.7,660.9 1446.5,651.9"/>
<line x1="1266" y1="856" x2="1375" y2="822.6" stroke="#ff0000" stroke-width="3" shape-rendering="crispEdges"/>
<polygon fill="#ff0000" shape-rendering="crispEdges" points="1385,819.5 1375.5,827.7 1372.5,818.1"/>
<line x1="1385" y1="818.5" x2="1447" y2="815.1" stroke="#ff0000" stroke-width="3" shape-rendering="crispEdges"/>
<polygon fill="#ff0000" shape-rendering="crispEdges" points="1457.5,814.5 1446.3,820.1 1445.7,810.1"/>
<rect x="1373" y="81" width="121" height="9" fill="#00ff00"/>
<text x="1499.5" y="78.8" font-family="'Noto Serif CJK SC','Liberation Serif',serif" font-size="20.5" fill="#14ff08" font-weight="300" textLength="107.5" lengthAdjust="spacing">多空转折点</text>
<polygon points="1438,28 1449,28 1443.5,34" fill="#c0c0c0"/>
<g fill="#000" shape-rendering="crispEdges">
<rect x="0" y="27" width="1682" height="1"/>
<rect x="1681" y="27" width="1" height="554"/><rect x="1681" y="582" width="1" height="171"/><rect x="1681" y="754" width="1" height="175"/>
<rect x="0" y="580" width="1682" height="1"/><rect x="0" y="582" width="1682" height="1"/>
<rect x="0" y="752" width="1682" height="1"/><rect x="0" y="754" width="1682" height="1"/>
<rect x="0" y="928" width="1682" height="1"/>
<rect x="1682" y="49" width="2" height="1"/>
<rect x="1682" y="82" width="2" height="1"/>
<rect x="1682" y="115" width="2" height="1"/>
<rect x="1682" y="148" width="2" height="1"/>
<rect x="1682" y="181" width="2" height="1"/>
<rect x="1682" y="214" width="2" height="1"/>
<rect x="1682" y="247" width="2" height="1"/>
<rect x="1682" y="280" width="2" height="1"/>
<rect x="1682" y="313" width="2" height="1"/>
<rect x="1682" y="346" width="2" height="1"/>
<rect x="1682" y="379" width="2" height="1"/>
<rect x="1682" y="412" width="2" height="1"/>
<rect x="1682" y="445" width="2" height="1"/>
<rect x="1682" y="478" width="2" height="1"/>
<rect x="1682" y="511" width="2" height="1"/>
<rect x="1682" y="544" width="2" height="1"/>
<rect x="1682" y="577" width="2" height="1"/>
<rect x="58" y="929" width="1" height="3"/>
<rect x="122" y="929" width="1" height="3"/>
<rect x="186" y="929" width="1" height="3"/>
<rect x="250" y="929" width="1" height="3"/>
<rect x="314" y="929" width="1" height="3"/>
<rect x="378" y="929" width="1" height="3"/>
<rect x="442" y="929" width="1" height="3"/>
<rect x="506" y="929" width="1" height="3"/>
<rect x="570" y="929" width="1" height="3"/>
<rect x="634" y="929" width="1" height="3"/>
<rect x="698" y="929" width="1" height="3"/>
<rect x="762" y="929" width="1" height="3"/>
<rect x="826" y="929" width="1" height="3"/>
<rect x="890" y="929" width="1" height="3"/>
<rect x="954" y="929" width="1" height="3"/>
<rect x="1018" y="929" width="1" height="3"/>
<rect x="1082" y="929" width="1" height="3"/>
<rect x="1146" y="929" width="1" height="3"/>
<rect x="1210" y="929" width="1" height="3"/>
<rect x="1274" y="929" width="1" height="3"/>
<rect x="1338" y="929" width="1" height="3"/>
<rect x="1402" y="929" width="1" height="3"/>
<rect x="1466" y="929" width="1" height="3"/>
<rect x="1682" y="719" width="2" height="1"/>
<rect x="1682" y="790" width="2" height="1"/>
<rect x="1682" y="841" width="2" height="1"/>
<rect x="1682" y="902" width="2" height="1"/>
</g>
<text x="1687.3" y="53.2" font-size="9.9" fill="#000" textLength="33.1" lengthAdjust="spacingAndGlyphs">155.010</text>
<text x="1687.3" y="119.2" font-size="9.9" fill="#000" textLength="33.1" lengthAdjust="spacingAndGlyphs">152.385</text>
<text x="1687.3" y="152.2" font-size="9.9" fill="#000" textLength="33.1" lengthAdjust="spacingAndGlyphs">151.090</text>
<text x="1687.3" y="185.2" font-size="9.9" fill="#000" textLength="33.1" lengthAdjust="spacingAndGlyphs">149.760</text>
<text x="1687.3" y="218.2" font-size="9.9" fill="#000" textLength="33.1" lengthAdjust="spacingAndGlyphs">148.430</text>
<text x="1687.3" y="251.2" font-size="9.9" fill="#000" textLength="33.1" lengthAdjust="spacingAndGlyphs">147.135</text>
<text x="1687.3" y="284.2" font-size="9.9" fill="#000" textLength="33.1" lengthAdjust="spacingAndGlyphs">145.805</text>
<text x="1687.3" y="317.2" font-size="9.9" fill="#000" textLength="33.1" lengthAdjust="spacingAndGlyphs">144.510</text>
<text x="1687.3" y="350.2" font-size="9.9" fill="#000" textLength="33.1" lengthAdjust="spacingAndGlyphs">143.180</text>
<text x="1687.3" y="383.2" font-size="9.9" fill="#000" textLength="33.1" lengthAdjust="spacingAndGlyphs">141.850</text>
<text x="1687.3" y="416.2" font-size="9.9" fill="#000" textLength="33.1" lengthAdjust="spacingAndGlyphs">140.555</text>
<text x="1687.3" y="449.2" font-size="9.9" fill="#000" textLength="33.1" lengthAdjust="spacingAndGlyphs">139.225</text>
<text x="1687.3" y="482.2" font-size="9.9" fill="#000" textLength="33.1" lengthAdjust="spacingAndGlyphs">137.930</text>
<text x="1687.3" y="515.2" font-size="9.9" fill="#000" textLength="33.1" lengthAdjust="spacingAndGlyphs">136.600</text>
<text x="1687.3" y="548.2" font-size="9.9" fill="#000" textLength="33.1" lengthAdjust="spacingAndGlyphs">135.270</text>
<text x="1687.3" y="581.2" font-size="9.9" fill="#000" textLength="33.1" lengthAdjust="spacingAndGlyphs">133.975</text>
<text x="1685.5" y="592.6" font-size="9.9" fill="#000" textLength="28.0" lengthAdjust="spacingAndGlyphs">1.7526</text>
<text x="1685.5" y="722.7" font-size="9.9" fill="#000" textLength="17.8" lengthAdjust="spacingAndGlyphs">0.00</text>
<text x="1685.5" y="748.7" font-size="9.9" fill="#000" textLength="31.1" lengthAdjust="spacingAndGlyphs">-0.4212</text>
<text x="1685" y="764.6" font-size="9.9" fill="#000" textLength="15.3" lengthAdjust="spacingAndGlyphs">100</text>
<text x="1685" y="793.7" font-size="9.9" fill="#000" textLength="10.2" lengthAdjust="spacingAndGlyphs">80</text>
<text x="1685" y="844.7" font-size="9.9" fill="#000" textLength="10.2" lengthAdjust="spacingAndGlyphs">50</text>
<text x="1685" y="905.7" font-size="9.9" fill="#000" textLength="10.2" lengthAdjust="spacingAndGlyphs">15</text>
<text x="1685" y="924.7" font-size="9.9" fill="#000" textLength="5.1" lengthAdjust="spacingAndGlyphs">0</text>
<text x="-2.5" y="594.6" font-size="9.9" textLength="128.3" lengthAdjust="spacingAndGlyphs">MACD(12,26,9) 0.9120 0.8997</text>
<text x="-2" y="766.6" font-size="9.9" textLength="68" lengthAdjust="spacingAndGlyphs">RSI(14) 63.3116</text>
<text x="9.2" y="39.2" font-size="9.9" textLength="63" lengthAdjust="spacingAndGlyphs">GBPJPY-,Daily</text>
<text x="78.3" y="39.2" font-size="9.9" textLength="140.6" lengthAdjust="spacingAndGlyphs">154.398 154.655 153.997 154.163</text>
<polygon points="0,33 0,38 5,38" fill="#000"/>
<text x="-6.8" y="941.1" font-size="9.9" fill="#000" textLength="51.0" lengthAdjust="spacingAndGlyphs">16 Oct 2020</text>
<text x="57.2" y="941.1" font-size="9.9" fill="#000" textLength="51.0" lengthAdjust="spacingAndGlyphs">25 Oct 2020</text>
<text x="121.2" y="941.1" font-size="9.9" fill="#000" textLength="47.9" lengthAdjust="spacingAndGlyphs">3 Nov 2020</text>
<text x="185.2" y="941.1" font-size="9.9" fill="#000" textLength="53.1" lengthAdjust="spacingAndGlyphs">12 Nov 2020</text>
<text x="249.2" y="941.1" font-size="9.9" fill="#000" textLength="53.1" lengthAdjust="spacingAndGlyphs">22 Nov 2020</text>
<text x="313.2" y="941.1" font-size="9.9" fill="#000" textLength="47.9" lengthAdjust="spacingAndGlyphs">1 Dec 2020</text>
<text x="377.2" y="941.1" font-size="9.9" fill="#000" textLength="53.1" lengthAdjust="spacingAndGlyphs">10 Dec 2020</text>
<text x="441.2" y="941.1" font-size="9.9" fill="#000" textLength="53.1" lengthAdjust="spacingAndGlyphs">20 Dec 2020</text>
<text x="505.2" y="941.1" font-size="9.9" fill="#000" textLength="53.1" lengthAdjust="spacingAndGlyphs">30 Dec 2020</text>
<text x="569.2" y="941.1" font-size="9.9" fill="#000" textLength="51.5" lengthAdjust="spacingAndGlyphs">10 Jan 2021</text>
<text x="633.2" y="941.1" font-size="9.9" fill="#000" textLength="51.5" lengthAdjust="spacingAndGlyphs">19 Jan 2021</text>
<text x="697.2" y="941.1" font-size="9.9" fill="#000" textLength="51.5" lengthAdjust="spacingAndGlyphs">28 Jan 2021</text>
<text x="761.2" y="941.1" font-size="9.9" fill="#000" textLength="47.3" lengthAdjust="spacingAndGlyphs">7 Feb 2021</text>
<text x="825.2" y="941.1" font-size="9.9" fill="#000" textLength="52.5" lengthAdjust="spacingAndGlyphs">16 Feb 2021</text>
<text x="889.2" y="941.1" font-size="9.9" fill="#000" textLength="52.5" lengthAdjust="spacingAndGlyphs">25 Feb 2021</text>
<text x="953.2" y="941.1" font-size="9.9" fill="#000" textLength="47.3" lengthAdjust="spacingAndGlyphs">7 Mar 2021</text>
<text x="1017.2" y="941.1" font-size="9.9" fill="#000" textLength="52.5" lengthAdjust="spacingAndGlyphs">16 Mar 2021</text>
<text x="1081.2" y="941.1" font-size="9.9" fill="#000" textLength="52.5" lengthAdjust="spacingAndGlyphs">25 Mar 2021</text>
<text x="1145.2" y="941.1" font-size="9.9" fill="#000" textLength="45.3" lengthAdjust="spacingAndGlyphs">5 Apr 2021</text>
<text x="1209.2" y="941.1" font-size="9.9" fill="#000" textLength="50.5" lengthAdjust="spacingAndGlyphs">14 Apr 2021</text>
<text x="1273.2" y="941.1" font-size="9.9" fill="#000" textLength="50.5" lengthAdjust="spacingAndGlyphs">23 Apr 2021</text>
<text x="1337.2" y="941.1" font-size="9.9" fill="#000" textLength="48.9" lengthAdjust="spacingAndGlyphs">3 May 2021</text>
<text x="1401.2" y="941.1" font-size="9.9" fill="#000" textLength="54.1" lengthAdjust="spacingAndGlyphs">12 May 2021</text>
<text x="1465.2" y="941.1" font-size="9.9" fill="#000" textLength="54.1" lengthAdjust="spacingAndGlyphs">21 May 2021</text>
<rect x="1683" y="34" width="41" height="11" fill="#ff0000" shape-rendering="crispEdges"/>
<text x="1687.8" y="42.9" font-size="9.5" fill="#fff" textLength="32.1" lengthAdjust="spacingAndGlyphs">155.391</text>
<rect x="1683" y="49" width="41" height="11" fill="#ff0000" shape-rendering="crispEdges"/>
<text x="1687.8" y="57.9" font-size="9.5" fill="#fff" textLength="32.1" lengthAdjust="spacingAndGlyphs">154.766</text>
<rect x="1683" y="66" width="41" height="11" fill="#000" shape-rendering="crispEdges"/>
<text x="1687.8" y="74.9" font-size="9.5" fill="#fff" textLength="32.1" lengthAdjust="spacingAndGlyphs">154.163</text>
<rect x="1683" y="79" width="41" height="11" fill="#32cd32" shape-rendering="crispEdges"/>
<text x="1687.8" y="87.9" font-size="9.5" fill="#fff" textLength="32.1" lengthAdjust="spacingAndGlyphs">153.595</text>
<rect x="1683" y="93" width="41" height="11" fill="#0000ff" shape-rendering="crispEdges"/>
<text x="1687.8" y="101.9" font-size="9.5" fill="#fff" textLength="32.1" lengthAdjust="spacingAndGlyphs">153.049</text>
<rect x="1683" y="105" width="41" height="11" fill="#0000ff" shape-rendering="crispEdges"/>
<text x="1687.8" y="113.9" font-size="9.5" fill="#fff" textLength="32.1" lengthAdjust="spacingAndGlyphs">152.541</text>
<rect x="1726" y="25" width="1" height="920" fill="#e8e8e8"/><rect x="1727" y="24" width="1" height="921" fill="#c4c4c4"/>
</svg>
<svg id="tb" width="1728" height="27" viewBox="0 0 1728 27">
<defs>
<linearGradient id="gb" x1="0" y1="0" x2="0" y2="1"><stop offset="0" stop-color="#e8573a"/><stop offset="1" stop-color="#d81c0c"/></linearGradient>
<linearGradient id="gl" x1="0" y1="0" x2="1" y2="1"><stop offset="0" stop-color="#ffffff"/><stop offset="1" stop-color="#a8d0f8"/></linearGradient>
<linearGradient id="gc" x1="0" y1="0" x2="0" y2="1"><stop offset="0" stop-color="#ffffff"/><stop offset="1" stop-color="#b8c8e0"/></linearGradient>
</defs>
<rect x="0" y="0" width="1728" height="23" fill="#f0f0f0"/>
<rect x="0" y="22" width="1728" height="1" fill="#e0e0e0"/>
<rect x="0" y="23" width="1728" height="1" fill="#b4b4b4"/>
<rect x="0" y="24" width="1728" height="1" fill="#7a7a7a"/>
<rect x="0" y="25" width="1728" height="2" fill="#fff"/>
<!-- partial doc icon -->
<rect x="-3" y="4.5" width="7" height="13" fill="#fff" stroke="#3a78d8" stroke-width="1.2"/>
<path d="M0 8.5h3M0 10.5h3M0 12.5h3M0 14.5h3" stroke="#9cb8f0" stroke-width="1"/>
<!-- chart magnifier -->
<rect x="17.5" y="3.5" width="12" height="13" fill="#fcfcfc" stroke="#b8a888" stroke-width="1"/>
<path d="M20.5 6v7M26.5 5v7M19 8h3M25 7h3" stroke="#777" stroke-width="1"/>
<path d="M29.5 16 L34 20" stroke="#d8a020" stroke-width="2.6" stroke-linecap="round"/>
<circle cx="25.3" cy="12" r="4.8" fill="#c8e0f8" fill-opacity=".85" stroke="#6a9ae0" stroke-width="1.2"/>
<rect x="31" y="7.5" width="2" height="2" fill="#222" transform="rotate(45 32 8.5)"/>
<!-- separator -->
<rect x="42" y="0" width="1" height="21" fill="#8c8c8c"/>
<!-- new order -->
<path d="M52.5 3.5h8l3.5 3.5v9.500h-11.500z" fill="#fff" stroke="#777" stroke-width="1"/>
<path d="M54.500 6.500h4M54.500 9.500h6M54.500 11.500h6" stroke="#999" stroke-width="1"/>
<path d="M60 10h3v4h4v3h-4v4h-3v-4h-4v-3h4z" fill="#22d022" stroke="#0a8a0a" stroke-width=".8"/>
<text x="71" y="14.800" font-size="12" fill="#000">新订单</text>
<!-- yellow book -->
<path d="M125 4 L135.200 12.300 L127.800 19 L119 13 Z" fill="#e0a820" stroke="#8a5c08" stroke-width=".8"/>
<path d="M125 4.800 L133.600 11.800 L127.500 16.600 L120.300 12.400 Z" fill="#f4c838"/>
<path d="M125.200 6 L131.500 11.200 L127.200 14.500 L122.500 11.800 Z" fill="#fcdc68"/>
<path d="M119.300 13.600 L127.800 18.600 L134.800 12.400" fill="none" stroke="#7a5008" stroke-width="1.300"/>
<path d="M120 12.900 L127.700 17.300 L134 11.900" fill="none" stroke="#f8ecc8" stroke-width=".8"/>
<!-- cloud -->
<path d="M149.500 4.200 l5.500 -1.500 l5 1.800 v8 h-10.500z" fill="#2a88e8" stroke="#1a60b8" stroke-width=".8"/>
<path d="M149.500 4.200 l5 1.600 v6.500" fill="none" stroke="#8cc4f8" stroke-width=".8"/>
<path d="M155.500 7.500h4M155.500 9.500h3" stroke="#d8ecff" stroke-width="1"/>
<path d="M150.300 18.500 a3.400 3.400 0 0 1 .3 -6.700 a4 4 0 0 1 7.600 -.6 a3.600 3.600 0 0 1 2 7.300 z" fill="url(#gc)" stroke="#6a84b0" stroke-width=".9"/>
<!-- signal -->
<defs><linearGradient id="gsg" x1="0" y1="0" x2="1" y2="1"><stop offset="0" stop-color="#f0f6f0"/><stop offset="1" stop-color="#8cc898"/></linearGradient></defs>
<circle cx="183" cy="10.800" r="8" fill="#eef2f8"/>
<path d="M183 10.800 L183 18.800 A8 8 0 0 0 183 2.800 Z" fill="url(#gsg)"/>
<path d="M183 2.800 a8 8 0 0 0 0 16" fill="none" stroke="#90a8e4" stroke-width="1"/>
<path d="M183 5.400 a5.400 5.400 0 0 0 0 10.800" fill="none" stroke="#5078d8" stroke-width="1"/>
<path d="M183 8 a2.800 2.800 0 0 0 0 5.600" fill="none" stroke="#3a62d0" stroke-width="1"/>
<path d="M183 2.800 a8 8 0 0 1 0 16" fill="none" stroke="#6aa878" stroke-width="1"/>
<path d="M183 5.400 a5.400 5.400 0 0 1 0 10.800" fill="none" stroke="#a0c8a8" stroke-width="1"/>
<circle cx="183" cy="10.500" r="1.700" fill="#2a52d0"/>
<path d="M183.300 11.500v7.300" stroke="#18a828" stroke-width="1.700"/>
<!-- autotrade -->
<path d="M203 9.500 L209 18.300 L213.500 19.200 L218 9.500 Z" fill="#f4cc38" stroke="#c09818" stroke-width=".8"/>
<path d="M205 11 L210 17 L212.500 16 L214.500 11 Z" fill="#fce888"/>
<ellipse cx="210.300" cy="9" rx="7.900" ry="2.500" fill="#4090d8" stroke="#2a68b0" stroke-width=".8"/>
<path d="M205.800 8.600 C205.500 1.800,215 1.800,214.800 8.600 C212.500 9.800,208 9.800,205.800 8.600z" fill="#74b8f0" stroke="#2a70b8" stroke-width=".8"/>
<circle cx="214.500" cy="14.700" r="4.300" fill="#d81808"/>
<rect x="212.900" y="13.100" width="3.200" height="3.200" fill="#fff"/>
<text x="223.500" y="14.800" font-size="12" fill="#000">自动交易</text>
<rect x="278" y="0" width="1" height="22" fill="#b0b0b0"/>
<g fill="#a8a8a8"><rect x="282" y="2" width="3" height="1"/><rect x="282" y="4" width="3" height="1"/><rect x="282" y="6" width="3" height="1"/><rect x="282" y="8" width="3" height="1"/><rect x="282" y="10" width="3" height="1"/><rect x="282" y="12" width="3" height="1"/><rect x="282" y="14" width="3" height="1"/><rect x="282" y="16" width="3" height="1"/><rect x="282" y="18" width="3" height="1"/></g>
<!-- chart type: bar -->
<g stroke="#444" stroke-width="1.200" fill="none">
<path d="M296.500 5v13M294 16h13"/><path d="M305 14.500l2 1.500l-2 1.500" stroke-width="1"/>
</g>
<path d="M302.500 7v8M300.500 13.500h2M302.500 8.500h2" stroke="#1a8a2a" stroke-width="1.300" fill="none"/>
<rect x="316" y="1" width="1" height="20" fill="#8c8c8c"/>
<!-- candle selected -->
<rect x="317.500" y="0.500" width="24" height="21" fill="#f8f8f8"/>
<g stroke="#444" stroke-width="1.200" fill="none"><path d="M325 5v13M322.500 16h13"/><path d="M333.500 14.500l2 1.500l-2 1.500" stroke-width="1"/></g>
<path d="M331 3v12" stroke="#222" stroke-width="1"/><rect x="329" y="5" width="4" height="7.500" fill="#18a028" stroke="#0a6a18" stroke-width=".6"/>
<!-- line -->
<g stroke="#444" stroke-width="1.200" fill="none"><path d="M352.500 5v13M350 16h13"/><path d="M361 14.500l2 1.500l-2 1.500" stroke-width="1"/></g>
<path d="M351.500 13 C354 6,357 6,363 12" stroke="#1a8a2a" stroke-width="1.200" fill="none"/>
<rect x="373" y="1" width="1" height="20" fill="#8c8c8c"/>
<!-- zoom in -->
<path d="M392.500 14.500 L397 19" stroke="#d8a828" stroke-width="2.600" stroke-linecap="round"/>
<circle cx="388.200" cy="9.300" r="5.500" fill="url(#gl)" stroke="#3a7ad8" stroke-width="1.300"/>
<path d="M385.200 9.300h6M388.200 6.300v6" stroke="#2a6ad0" stroke-width="1.600"/>
<!-- zoom out -->
<path d="M420.500 14.500 L425 19" stroke="#d8a828" stroke-width="2.600" stroke-linecap="round"/>
<circle cx="416.200" cy="9.300" r="5.500" fill="url(#gl)" stroke="#3a7ad8" stroke-width="1.300"/>
<path d="M413.200 9.300h6" stroke="#2a6ad0" stroke-width="1.600"/>
<!-- tile -->
<rect x="438" y="3" width="7.500" height="7" fill="#3a9a3a"/><rect x="447" y="3" width="7.500" height="7" fill="#2a5ac8"/>
<rect x="438" y="11.500" width="7.500" height="7" fill="#2a5ac8"/><rect x="447" y="11.500" width="7.500" height="7" fill="#3a9a3a"/>
<rect x="439" y="5.500" width="5.500" height="3.500" fill="#d8f0d8"/><rect x="448" y="5.500" width="5.500" height="3.500" fill="#d8e4f8"/>
<rect x="439" y="14" width="5.500" height="3.500" fill="#d8e4f8"/><rect x="448" y="14" width="5.500" height="3.500" fill="#d8f0d8"/>
<rect x="463" y="1" width="1" height="20" fill="#8c8c8c"/>
<!-- autoscroll selected -->
<rect x="468.500" y="0.500" width="24" height="21" fill="#f8f8f8"/>
<g stroke="#444" stroke-width="1.200" fill="none"><path d="M476 5v13M473.500 16h13"/><path d="M484.500 14.500l2 1.500l-2 1.500" stroke-width="1"/></g>
<path d="M481 7.500l4 3l-4 3z" fill="#28b038" stroke="#0a7a18" stroke-width=".6"/>
<rect x="496" y="1" width="1" height="20" fill="#8c8c8c"/>
<!-- chart shift selected -->
<rect x="497.500" y="0.500" width="23.500" height="21" fill="#f8f8f8"/>
<g stroke="#444" stroke-width="1.200" fill="none"><path d="M504.500 5v13M502 16h13"/><path d="M513 14.500l2 1.500l-2 1.500" stroke-width="1"/></g>
<path d="M510.500 4v11" stroke="#2a5ac8" stroke-width="1.200"/><path d="M516 10.500h-4M513.500 8.500l-2 2l2 2" stroke="#d83018" stroke-width="1.100" fill="none"/>
<rect x="525" y="1" width="1" height="20" fill="#8c8c8c"/>
<!-- indicators -->
<path d="M535.500 3.500h6l3 3v9h-9z" fill="#fff" stroke="#777" stroke-width="1"/>
<path d="M538 10c0-3 1-5 2.500-5" stroke="#555" stroke-width="1" fill="none"/>
<path d="M543 9.500h3v3.500h4v3h-4v3.500h-3v-3.500h-3.500v-3h3.500z" fill="#22d022" stroke="#0a8a0a" stroke-width=".8"/>
<path d="M557.500 10h4.500l-2.250 2.500z" fill="#000"/>
<!-- clock -->
<circle cx="581.300" cy="10.800" r="7.300" fill="#2a68d0" stroke="#1a48a0" stroke-width="1"/>
<circle cx="581.300" cy="10.800" r="5" fill="#f4f8ff"/>
<path d="M581.300 7.500v3.500h3" stroke="#333" stroke-width="1" fill="none"/>
<path d="M596.500 10h4.500l-2.250 2.500z" fill="#000"/>
<!-- template -->
<rect x="612.500" y="4" width="15.500" height="13" fill="#fff" stroke="#3a6ac0" stroke-width="1"/>
<rect x="612.500" y="4" width="15.500" height="2.500" fill="#3a78d0"/>
<path d="M614 10l3-1l3 1l3-1.500l3 .5" stroke="#c83018" stroke-width="1" fill="none"/>
<path d="M614 14.500l3-1l3 1l3-1.500l3 1" stroke="#18a028" stroke-width="1" fill="none"/>
<path d="M613 12h15" stroke="#888" stroke-width=".8"/>
<path d="M635 10h4.500l-2.250 2.500z" fill="#000"/>
<rect x="646" y="0" width="1" height="22" fill="#b0b0b0"/>
<g fill="#a8a8a8"><rect x="650" y="2" width="3" height="1"/><rect x="650" y="4" width="3" height="1"/><rect x="650" y="6" width="3" height="1"/><rect x="650" y="8" width="3" height="1"/><rect x="650" y="10" width="3" height="1"/><rect x="650" y="12" width="3" height="1"/><rect x="650" y="14" width="3" height="1"/><rect x="650" y="16" width="3" height="1"/><rect x="650" y="18" width="3" height="1"/></g>
<!-- cursor selected -->
<rect x="656.500" y="0.500" width="24" height="21" fill="#f8f8f8"/>
<path d="M663.500 4.500 v12.500 l3 -3 l2.500 5 l2 -1 l-2.500 -5 h4 z" fill="#333"/>
<!-- crosshair -->
<path d="M696.500 3.500v6M696.500 12.500v6M689 11h6M698 11h6" stroke="#444" stroke-width="1.100"/>
<rect x="713" y="1" width="1" height="20" fill="#8c8c8c"/>
<!-- vline hline trend -->
<path d="M730.500 5.500v12" stroke="#444" stroke-width="1.200"/>
<path d="M752.500 11h12.500" stroke="#444" stroke-width="1.200"/>
<path d="M781 17.500L793.500 6" stroke="#444" stroke-width="1.200"/>
<!-- channel -->
<g stroke="#444" stroke-width="1" fill="none"><path d="M807 14.500L820 5.500M807 17.500L820 8.500"/><path d="M810 8l1 8M814 6l1 8M818 4l1 8" stroke-width=".8"/></g>
<text x="818" y="19.500" font-size="6.500" font-weight="bold" fill="#333">E</text>
<!-- fibo -->
<g stroke="#555" stroke-width="1" stroke-dasharray="1 1"><path d="M836 4.500h13M836 7.500h13M836 10.500h13M836 14.500h13"/></g>
<text x="846" y="19.500" font-size="6.500" font-weight="bold" fill="#333">F</text>
<text x="866" y="16" font-size="12.500" font-weight="bold" fill="#555">A</text>
<rect x="893" y="5.500" width="11" height="11" fill="none" stroke="#555" stroke-width="1" stroke-dasharray="1 1"/>
<text x="895" y="15.500" font-size="11" font-weight="bold" fill="#444">T</text>
<path d="M920 7.500l3.500-3l3.500 3l-3.500 3zM927 14l3.500-3l3.500 3l-3.500 3z" fill="#444"/><path d="M922 12l3.500 3l4-5" stroke="#444" stroke-width="1.200" fill="none"/>
<path d="M941.500 10h4.500l-2.250 2.500z" fill="#000"/>
<rect x="952" y="0" width="1" height="22" fill="#b0b0b0"/>
<g fill="#a8a8a8"><rect x="956" y="2" width="3" height="1"/><rect x="956" y="4" width="3" height="1"/><rect x="956" y="6" width="3" height="1"/><rect x="956" y="8" width="3" height="1"/><rect x="956" y="10" width="3" height="1"/><rect x="956" y="12" width="3" height="1"/><rect x="956" y="14" width="3" height="1"/><rect x="956" y="16" width="3" height="1"/><rect x="956" y="18" width="3" height="1"/></g>
<!-- timeframes -->
<rect x="1130" y="0" width="1" height="21" fill="#a0a0a0"/>
<rect x="1131" y="0.500" width="24" height="21" fill="#f8f8f8"/>
<g font-size="9.500" fill="#444" text-anchor="middle">
<text x="974" y="15">M1</text><text x="1002" y="15">M5</text><text x="1030.500" y="15">M15</text><text x="1058.500" y="15">M30</text><text x="1086.500" y="15">H1</text><text x="1114" y="15">H4</text><text x="1142.500" y="15">D1</text><text x="1171.300" y="15">W1</text><text x="1198" y="15">MN</text>
</g>
<rect x="1213" y="0" width="1" height="22" fill="#b0b0b0"/>
<!-- search -->
<path d="M1680.500 11.500 L1675.800 16" stroke="#2a5ad8" stroke-width="2.400" stroke-linecap="round"/>
<circle cx="1683.500" cy="8.500" r="4" fill="#f4f6ff" stroke="#2a5ad8" stroke-width="1.300"/>
<!-- chat -->
<path d="M1700.500 13 a5 4.500 0 1 1 5 4.500 l-2 2.300 l-.5 -2.700 a5 4.500 0 0 1 -2.500 -4.100z" fill="#e4e4ec" stroke="#b0b0b8" stroke-width=".9"/>
<circle cx="1714.500" cy="8.300" r="8.500" fill="url(#gb)"/>
<text x="1713.700" y="12.800" font-size="14" font-weight="bold" fill="#fff" text-anchor="middle" style="font-family:'Liberation Serif',serif">1</text>
</svg>
<svg id="trade" width="230" height="110" viewBox="0 0 230 110">
<defs>
<linearGradient id="r1" x1="0" y1="0" x2="0" y2="1"><stop offset="0" stop-color="#f44c4c"/><stop offset="1" stop-color="#d82c2c"/></linearGradient>
<linearGradient id="r2" x1="0" y1="0" x2="0" y2="1"><stop offset="0" stop-color="#d62424"/><stop offset="1" stop-color="#b00808"/></linearGradient>
<linearGradient id="bt" x1="0" y1="0" x2="0" y2="1"><stop offset="0" stop-color="#f4f4f4"/><stop offset=".5" stop-color="#e4e4e4"/><stop offset=".51" stop-color="#d4d4d4"/><stop offset="1" stop-color="#c8c8c8"/></linearGradient>
</defs>
<rect x="0" y="46" width="218" height="58.500" fill="#fff"/>
<rect x="0" y="47" width="48.500" height="25" fill="url(#r1)"/>
<rect x="164" y="47" width="52" height="25" fill="url(#r1)"/>
<rect x="0" y="71.500" width="106" height="32" fill="url(#r2)"/>
<rect x="108" y="71.500" width="108" height="32" fill="url(#r2)"/>
<path d="M0 47.500H48M48.500 47v24.500M164.500 47v24.500M164 47.500h52M215.500 47v56.500M0 103.500h106M108 103.500h108M105.500 72v32M108.500 72v32" stroke="#a01010" stroke-opacity=".55" stroke-width="1" fill="none"/><rect x="1" y="71" width="44" height="1" fill="#fff" fill-opacity=".6"/>
<rect x="168" y="71" width="44" height="1" fill="#fff" fill-opacity=".6"/>
<rect x="51.500" y="47.500" width="110.500" height="21" fill="#fff" stroke="#a8acb4" stroke-width="1"/>
<rect x="52.500" y="48.500" width="19.500" height="19" fill="url(#bt)" stroke="#b4b8c0" stroke-width=".8"/>
<rect x="141" y="48.500" width="20" height="19" fill="url(#bt)" stroke="#b4b8c0" stroke-width=".8"/>
<path d="M58.800 56h5l-2.500 3z" fill="#4a64b8"/>
<path d="M147.800 59h5l-2.500 -3z" fill="#4a64b8"/>
<text x="113.800" y="62" font-size="12.200" fill="#000" textLength="22.600" lengthAdjust="spacingAndGlyphs">1.00</text>
<text x="9.300" y="63" font-size="12.300" fill="#fff" textLength="25.600" lengthAdjust="spacingAndGlyphs">SELL</text>
<text x="177.700" y="63" font-size="12.300" fill="#fff" textLength="22.600" lengthAdjust="spacingAndGlyphs">BUY</text>
<text x="20.500" y="98.600" font-size="12.400" font-weight="bold" fill="#fff" textLength="20.200" lengthAdjust="spacingAndGlyphs">154</text>
<text x="44.300" y="98.600" font-size="34.500" fill="#fff" textLength="36.500" lengthAdjust="spacingAndGlyphs">16</text>
<text x="84.800" y="83.500" font-size="12.500" font-weight="bold" fill="#fff" textLength="6.200" lengthAdjust="spacingAndGlyphs">3</text>
<text x="130.500" y="98.600" font-size="12.400" font-weight="bold" fill="#fff" textLength="20.200" lengthAdjust="spacingAndGlyphs">154</text>
<text x="154.600" y="98.600" font-size="34.500" fill="#fff" textLength="36.500" lengthAdjust="spacingAndGlyphs">20</text>
<text x="195.300" y="83.500" font-size="12.500" font-weight="bold" fill="#fff" textLength="6.200" lengthAdjust="spacingAndGlyphs">3</text>
</svg>

</body></html>
